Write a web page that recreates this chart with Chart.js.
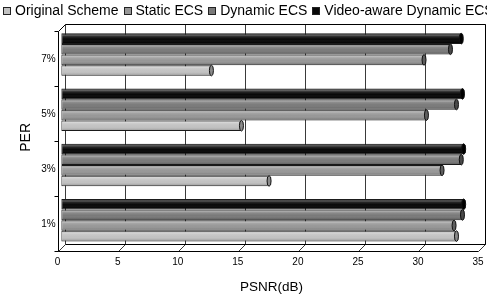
<!DOCTYPE html>
<html>
<head>
<meta charset="utf-8">
<script src="https://cdn.jsdelivr.net/npm/chart.js@4.4.1/dist/chart.umd.min.js"></script>
<style>
  body { margin: 0; background: #fff; }
  #wrap { position: relative; width: 487px; height: 301px; overflow: hidden;
          font-family: "Liberation Sans", Arial, sans-serif; }
  #legend { position: absolute; left: 3px; top: 2px; white-space: nowrap;
            font-size: 14px; line-height: 17px; color: #000; }
  #legend .item { margin-right: 5px; }
  #legend i { display: inline-block; width: 6px; height: 6px; border: 1px solid #222; margin-right: 4px; }
  canvas { position: absolute; left: 0; top: 0; }
</style>
</head>
<body>
<div id="wrap">
  <canvas id="perChart" width="487" height="301"></canvas>
  <div id="legend"></div>
</div>
<script>
// categories, top to bottom
const perLabels = ['7%', '5%', '3%', '1%'];

// PSNR(dB), same order as perLabels
const originalScheme = [12.5, 15.0, 17.3, 32.9];
const staticEcs      = [30.2, 30.4, 31.7, 32.7];
const dynamicEcs     = [32.4, 32.9, 33.3, 33.4];
const videoAwareEcs  = [33.3, 33.4, 33.5, 33.5];

const xTicks = [0, 5, 10, 15, 20, 25, 30, 35];

const seriesNames  = ['Original Scheme', 'Static ECS', 'Dynamic ECS', 'Video-aware Dynamic ECS'];
const seriesData   = [originalScheme, staticEcs, dynamicEcs, videoAwareEcs];
const seriesColors = ['#c2c2c2', '#979797', '#7a7a7a', '#080808'];
const capColors    = ['#8a8a8a', '#5e5e5e', '#4a4a4a', '#000000'];

/* -----------------------------
   HTML legend (clipped like the original)
------------------------------ */
document.getElementById('legend').innerHTML = seriesNames
  .map((name, i) => `<span class="item"><i style="background:${seriesColors[i]}"></i>${name}</span>`)
  .join('');

/* -----------------------------
   3D box: back wall, floor, left edge
------------------------------ */
const DX = 3.65, DY = 3.5;
const frame3d = {
  id: 'frame3d',
  beforeDatasetsDraw(chart) {
    const { ctx, chartArea: a, scales: { x, y } } = chart;
    const r = v => Math.round(v) + 0.5;
    const line = (x1, y1, x2, y2) => { ctx.beginPath(); ctx.moveTo(x1, y1); ctx.lineTo(x2, y2); ctx.stroke(); };
    const backTop = r(a.top - DY), backBot = r(a.bottom - DY), frontTop = r(a.top + DY), frontBot = r(a.bottom + DY);
    const xb = v => r(x.getPixelForValue(v) + DX);
    const xf = v => r(x.getPixelForValue(v) - DX);

    ctx.save();
    ctx.lineWidth = 1;

    // back wall grid lines + floor diagonals
    ctx.strokeStyle = '#3a3a3a';
    x.ticks.forEach(t => {
      line(xb(t.value), backTop, xb(t.value), backBot);
      line(xf(t.value), frontBot, xb(t.value), backBot);
    });

    ctx.strokeStyle = '#000';
    // back wall outline
    line(xb(x.min), backTop, xb(x.max), backTop);
    line(xb(x.max), backTop, xb(x.max), backBot);
    // floor
    line(xb(x.min), backBot, xb(x.max), backBot);
    line(xf(x.min), frontBot, xf(x.max), frontBot);
    // left edge
    line(xf(x.min), frontTop, xf(x.min), frontBot);
    line(xf(x.min), frontTop, xb(x.min), backTop);

    // category boundary ticks on the left edge
    const n = y.ticks.length;
    for (let i = 0; i <= n; i++) {
      const yy = r(a.top + (a.bottom - a.top) * i / n + DY);
      line(xf(x.min) - 4, yy, xf(x.min), yy);
    }
    ctx.restore();
  }
};

/* -----------------------------
   Cylinder shading over the bars
------------------------------ */
const cylinders = {
  id: 'cylinders',
  afterDatasetsDraw(chart) {
    const ctx = chart.ctx;
    ctx.save();
    for (let di = chart.data.datasets.length - 1; di >= 0; di--) {
      const meta = chart.getDatasetMeta(di);
      const cap = chart.data.datasets[di].capColor;
      meta.data.forEach(el => {
        const { x, y, base, height } = el.getProps(['x', 'y', 'base', 'height'], true);
        const top = y - height / 2, bot = y + height / 2;
        const g = ctx.createLinearGradient(0, top, 0, bot);
        g.addColorStop(0, 'rgba(0,0,0,0.25)');
        g.addColorStop(0.18, 'rgba(255,255,255,0.35)');
        g.addColorStop(0.32, 'rgba(255,255,255,0.12)');
        g.addColorStop(0.55, 'rgba(255,255,255,0)');
        g.addColorStop(0.85, 'rgba(0,0,0,0.12)');
        g.addColorStop(1, 'rgba(0,0,0,0.3)');
        ctx.fillStyle = g;
        ctx.fillRect(base + 1, top + 1, x - base - 2, height - 2);

        ctx.beginPath();
        ctx.ellipse(x, y, 2, height / 2, 0, 0, Math.PI * 2);
        ctx.fillStyle = cap;
        ctx.fill();
        ctx.strokeStyle = '#111';
        ctx.lineWidth = 1;
        ctx.stroke();
      });
    }
    ctx.restore();
  }
};

/* -----------------------------
   Chart
------------------------------ */
Chart.defaults.font.family = '"Liberation Sans", Arial, sans-serif';
Chart.defaults.color = '#000';

// datasets listed top-to-bottom inside each group
const order = [3, 2, 1, 0];
const datasets = order.map(i => ({
  label: seriesNames[i],
  data: seriesData[i],
  backgroundColor: seriesColors[i],
  capColor: capColors[i],
  borderColor: '#1a1a1a',
  borderWidth: 1,
  borderSkipped: false,
  categoryPercentage: 0.77,
  barPercentage: 1.0
}));

new Chart(document.getElementById('perChart').getContext('2d'), {
  type: 'bar',
  data: { labels: perLabels, datasets: datasets },
  plugins: [frame3d, cylinders],
  options: {
    responsive: false,
    animation: false,
    indexAxis: 'y',
    layout: { padding: { left: 14, right: 5.3, top: 27, bottom: 6 } },
    plugins: { legend: { display: false }, tooltip: { enabled: false } },
    scales: {
      x: {
        min: 0,
        max: 35,
        afterBuildTicks: s => { s.ticks = xTicks.map(v => ({ value: v })); },
        afterFit: s => { s.paddingRight = 0; s.paddingLeft = 0; },
        grid: { display: false, drawTicks: false },
        border: { display: false },
        ticks: { font: { size: 10 }, padding: 8, labelOffset: -3.6, maxRotation: 0 },
        title: { display: true, text: 'PSNR(dB)', font: { size: 13.5 }, padding: { top: 3, bottom: 0 } }
      },
      y: {
        grid: { display: false, drawTicks: false },
        border: { display: false },
        ticks: { font: { size: 10 }, padding: 5.5, labelOffset: 4.5 },
        title: { display: true, text: 'PER', font: { size: 14 }, padding: { top: 4, bottom: 1 } }
      }
    }
  }
});
</script>
</body>
</html>
